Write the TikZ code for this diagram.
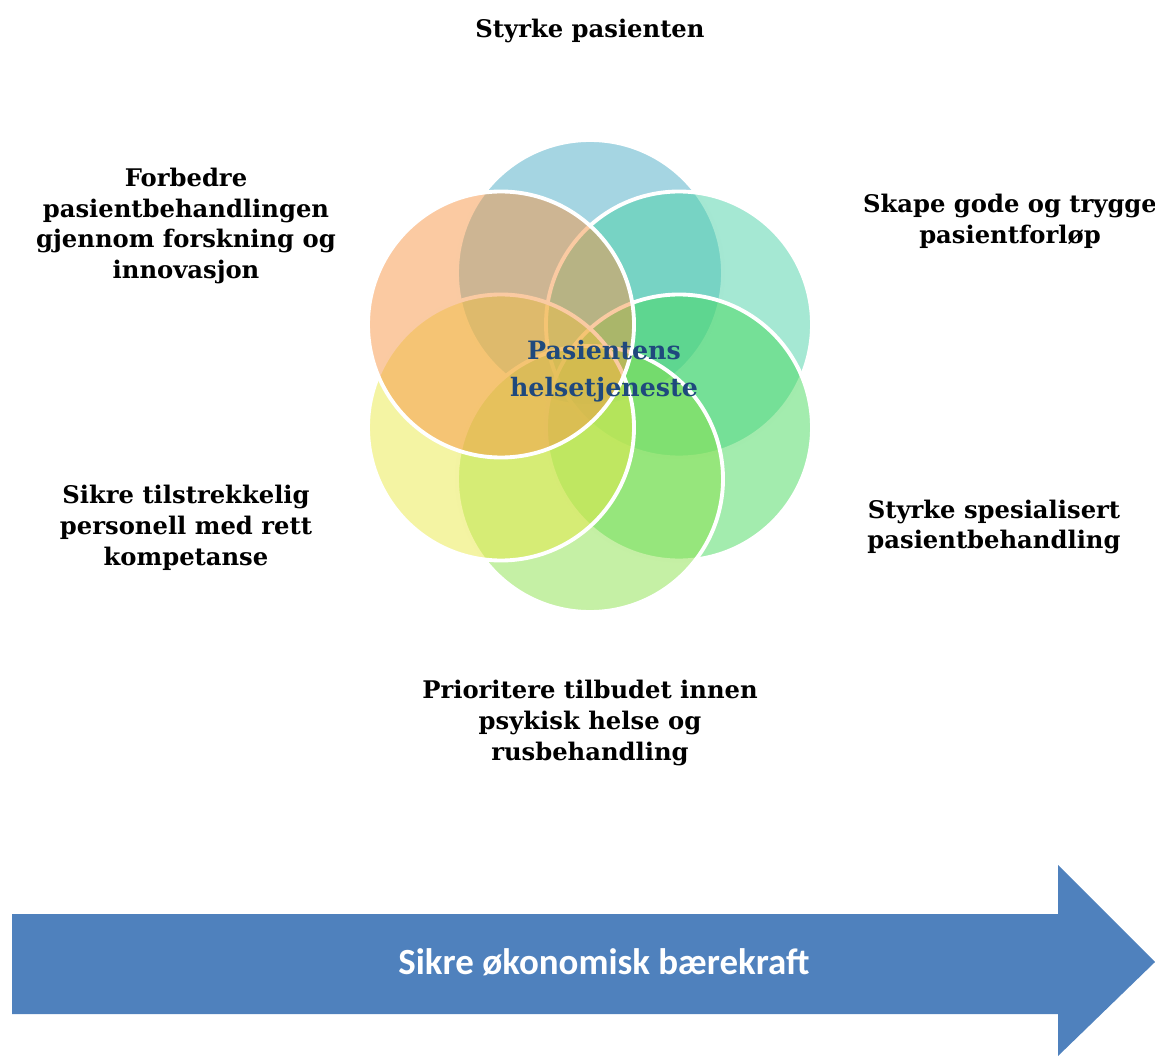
\documentclass[tikz,border=0pt]{standalone}
\usepackage{fontspec}
\setmainfont{DejaVu Serif}
\newfontfamily\arrowfont{Carlito}

\definecolor{petalblue}{HTML}{4BACC6}
\definecolor{petalteal}{HTML}{4BD1A7}
\definecolor{petalgreen}{HTML}{47D95D}
\definecolor{petallime}{HTML}{8BE14B}
\definecolor{petalyellow}{HTML}{E9E947}
\definecolor{petalorange}{HTML}{F79646}
\definecolor{corenavy}{HTML}{1F497D}
\definecolor{arrowblue}{HTML}{4F81BD}

\begin{document}
\begin{tikzpicture}[
    petal/.style={draw=white, line width=2.2pt, fill opacity=0.5},
    goal/.style={align=center, font=\bfseries\fontsize{13.8}{17.6}\selectfont},
    core/.style={align=center, text=corenavy, font=\bfseries\fontsize{14.4}{21}\selectfont},
    banner/.style={text=white, font=\arrowfont\bfseries\fontsize{21}{25}\selectfont}
    ]
    \useasboundingbox (0, 0) rectangle (23.1, 21.12);

    % circles, clockwise from the top one
    \draw[petal, fill=petalblue] (11.8, 15.66) circle (2.66);
    \draw[petal, fill=petalteal] (13.58, 14.63) circle (2.66);
    \draw[petal, fill=petalgreen] (13.58, 12.57) circle (2.66);
    \draw[petal, fill=petallime] (11.8, 11.54) circle (2.66);
    \draw[petal, fill=petalyellow] (10.02, 12.57) circle (2.66);
    \draw[petal, fill=petalorange] (10.02, 14.63) circle (2.66);

    \node[core] (kjerne) at (12.08, 13.7) {Pasientens\\helsetjeneste};

    \node[goal] (styrke) at (11.8, 20.5) {Styrke pasienten};
    \node[goal] (forloep) at (20.2, 16.7) {Skape gode og trygge\\pasientforløp};
    \node[goal] (spesialisert) at (19.88, 10.58) {Styrke spesialisert\\pasientbehandling};
    \node[goal] (psykisk) at (11.8, 6.66) {Prioritere tilbudet innen\\psykisk helse og\\rusbehandling};
    \node[goal] (personell) at (3.72, 10.56) {Sikre tilstrekkelig\\personell med rett\\kompetanse};
    \node[goal] (forskning) at (3.72, 16.6) {Forbedre\\pasientbehandlingen\\gjennom forskning og\\innovasjon};

    % the broad arrow along the bottom
    \fill[arrowblue] (0.24, 0.84) -- (21.16, 0.84) -- (21.16, 0) -- (23.1, 1.88)
        -- (21.16, 3.82) -- (21.16, 2.84) -- (0.24, 2.84) -- cycle;
    \node[banner] (baerekraft) at (12.08, 1.88) {Sikre økonomisk bærekraft};
\end{tikzpicture}
\end{document}
